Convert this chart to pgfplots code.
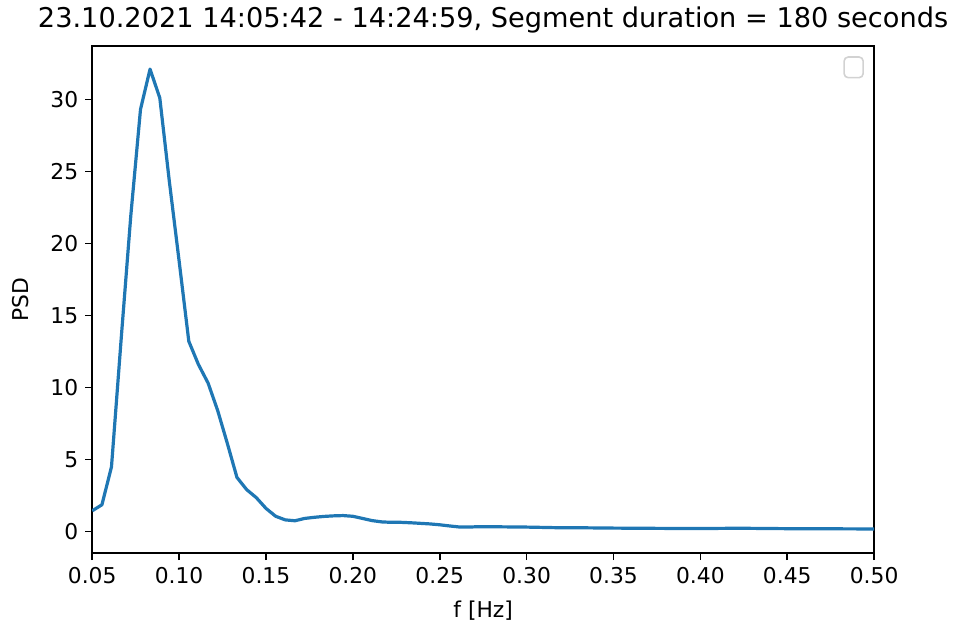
\documentclass[border=0pt]{standalone}
\usepackage{pgfplots}
\pgfplotsset{compat=1.18}
\usepackage{fontspec}
\setmainfont{DejaVu Sans}
\definecolor{mplblue}{HTML}{1F77B4}

\begin{document}
\begin{tikzpicture}
  \begin{axis}[
      name=psd,
      scale only axis,
      width=391pt, height=253.5pt,
      xmin=0.05, xmax=0.5, ymin=-1.5, ymax=33.7,
      xtick={0.05,0.10,...,0.51},
      ytick={0,5,...,30},
      xticklabel style={/pgf/number format/.cd, fixed, fixed zerofill, precision=2},
      /pgf/number format/assume math mode=true,
      tick label style={font=\fontsize{10.9}{13}\selectfont},
      label style={font=\fontsize{10.9}{13}\selectfont},
      title style={font=\fontsize{13.6}{16}\selectfont, yshift=-3pt, xshift=5pt},
      title={23.10.2021 14:05:42 - 14:24:59, Segment duration = 180 seconds},
      xlabel={f [Hz]}, ylabel={PSD},
      xlabel style={yshift=-2pt},
      ylabel style={yshift=4pt},
      tick align=outside, major tick length=3.5pt,
      xtick pos=bottom, ytick pos=left,
      axis line style={line width=0.8pt},
      every tick/.style={black, line width=0.8pt},
    ]
    % PSD estimate (spacing 1/180 Hz)
    \addplot[mplblue, line width=1.6pt, line join=round] coordinates {
      (0.0500,1.43) (0.0556,1.85) (0.0611,4.48) (0.0667,13.4) (0.0722,21.9)
      (0.0778,29.3) (0.0833,32.1) (0.0889,30.1) (0.0944,24.3) (0.1000,18.8)
      (0.1056,13.2) (0.1111,11.6) (0.1167,10.3) (0.1222,8.4) (0.1278,6.1)
      (0.1333,3.75) (0.1389,2.9) (0.1444,2.35) (0.1500,1.6) (0.1556,1.05)
      (0.1611,0.8) (0.1667,0.74) (0.1722,0.9) (0.1778,0.98) (0.1833,1.04)
      (0.1889,1.08) (0.1944,1.1) (0.2000,1.05) (0.2056,0.9) (0.2111,0.75)
      (0.2167,0.66) (0.2222,0.63) (0.2278,0.63) (0.2333,0.6) (0.2389,0.56)
      (0.2444,0.52) (0.2500,0.46) (0.2556,0.38) (0.2611,0.31) (0.2667,0.30)
      (0.2722,0.33) (0.2833,0.32) (0.3000,0.30) (0.3167,0.26) (0.3333,0.25)
      (0.3500,0.23) (0.3778,0.21) (0.4000,0.20) (0.4222,0.22) (0.4500,0.19)
      (0.4778,0.18) (0.5000,0.17)
    };
  \end{axis}
  % empty legend frame (no entries in the original)
  \draw[gray!35, line width=0.8pt, rounded corners=2pt]
    ([xshift=-5.5pt, yshift=-5.5pt]psd.north east) rectangle ++(-9.5pt,-10.3pt);
  % page size as in the reference
  \path ([xshift=-46.1pt, yshift=-41.5pt]psd.south west) rectangle ++(477.5pt,316pt);
\end{tikzpicture}
\end{document}
